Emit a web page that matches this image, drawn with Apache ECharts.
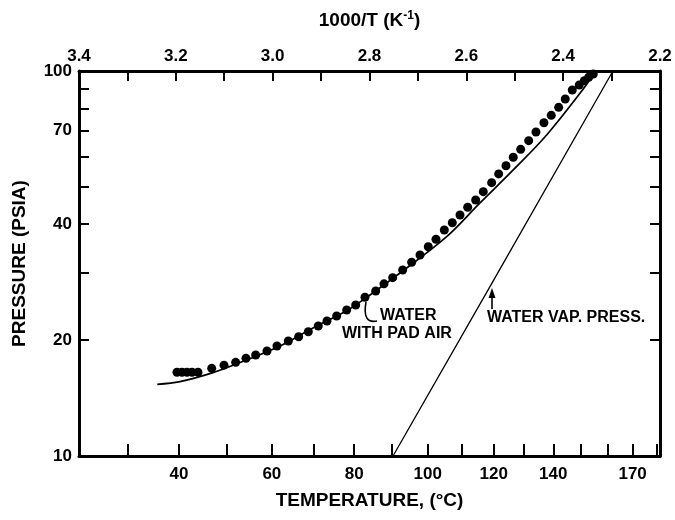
<!DOCTYPE html>
<html><head><meta charset="utf-8">
<script src="https://cdn.jsdelivr.net/npm/echarts@6/dist/echarts.min.js"></script>
<style>html,body{margin:0;background:#fff}#c{width:675px;height:520px}</style>
</head><body><div id="c"></div>
<script>
// Bottom axis: temperature (°C) ticks and labels (placed on 1000/T scale)
const tempTicks = [30,40,50,60,70,80,90,100,110,120,130,140,150,160,170,180];
const tempLabels = [40,60,80,100,120,140,170];
// Top axis: 1000/T (K^-1)
const invTTicks = [2.2,2.3,2.4,2.5,2.6,2.7,2.8,2.9,3.0,3.1,3.2,3.3,3.4];
const invTLabels = [2.2,2.4,2.6,2.8,3.0,3.2,3.4];
// Pressure axis (psia, log)
const pressureTicks = [10,20,30,40,50,60,70,80,90,100];
const pressureLabels = [10,20,40,70,100];

// Measured points: water with pad air (x = 1000/T, y = psia)
const padAirInvT = [3.1976,3.1873,3.1770,3.1666,3.1542,3.1259,3.1005,3.0764,3.0551,3.0351,3.0117,2.9911,2.9677,2.9463,2.9264,2.9058,2.8878,2.8678,2.8471,2.8285,2.8093,2.7872,2.7701,2.7521,2.7315,2.7129,2.6957,2.6786,2.6627,2.6455,2.6290,2.6131,2.5972,2.5807,2.5650,2.5477,2.5332,2.5181,2.5031,2.4878,2.4712,2.4562,2.4397,2.4246,2.4093,2.3957,2.3812,2.3668,2.3564,2.3473,2.3378];
const padAirP = [16.5,16.5,16.5,16.5,16.5,16.89,17.22,17.51,17.93,18.29,18.74,19.31,19.89,20.41,21.03,21.76,22.42,23.10,23.94,24.67,25.84,26.83,28.0,29.05,30.42,31.85,33.27,34.96,36.55,38.64,40.36,42.27,44.26,46.24,48.60,51.29,54.03,56.75,59.68,62.60,65.92,69.43,73.39,76.71,80.48,84.59,89.25,91.96,94.37,96.3,98.2];

// Calculated curve
const modelInvT = [3.2383,3.1914,3.1233,3.0537,2.9849,2.9167,2.8471,2.8135,2.7370,2.6406,2.5718,2.5031,2.4341,2.3653,2.3323];
const modelP = [15.35,15.60,16.46,17.76,19.31,21.50,23.84,25.43,29.88,37.12,45.42,55.33,68.20,87.5,100];

// Water vapour pressure
const vapInvT = [2.7514,2.5512,2.2972];
const vapP = [10,27.53,100];

const toInv = t => 1000/(t+273.15);
const FONT = 'Liberation Sans, Arial, sans-serif';
const zip = (a,b) => a.map((v,i)=>[v,b[i]]);

const chart = echarts.init(document.getElementById('c'), null, {renderer:'canvas'});
const axisLine = {show:true, lineStyle:{color:'#000', width:3}};
const tick = (vals, len) => ({show:true, inside:true, length:len, lineStyle:{color:'#000', width:2}, customValues: vals});
const lbl = {color:'#000', fontFamily:FONT, fontWeight:'bold', fontSize:17};
const nameStyle = {color:'#000', fontFamily:FONT, fontWeight:'bold', fontSize:19};

chart.setOption({
  animation:false,
  backgroundColor:'#fff',
  grid:{left:79, right:15, top:71, bottom:64, containLabel:false},
  xAxis:[
    {type:'value', position:'bottom', min:2.2, max:3.4, inverse:true,
     axisLine, splitLine:{show:false},
     axisTick: tick(tempTicks.map(toInv), 12),
     axisLabel: Object.assign({}, lbl, {margin:10, customValues: tempLabels.map(toInv),
       formatter: v => String(Math.round(1000/v - 273.15))}),
     name:'TEMPERATURE, (°C)', nameLocation:'middle', nameGap:35,
     nameTextStyle: nameStyle},
    {type:'value', position:'top', min:2.2, max:3.4, inverse:true,
     axisLine, splitLine:{show:false},
     axisTick: tick(invTTicks, 10),
     axisLabel: Object.assign({}, lbl, {margin:6, customValues: invTLabels,
       formatter: v => v.toFixed(1)}),
     name:'1000/T (K{s|-1})', nameLocation:'middle', nameGap:40,
     nameTextStyle: Object.assign({}, nameStyle, {
       rich:{s:{fontSize:12, fontWeight:'bold', fontFamily:FONT, color:'#000', verticalAlign:'top', padding:[0,0,9,0]}}})}
  ],
  yAxis:[
    {type:'log', logBase:10, min:10, max:100, position:'left',
     axisLine, splitLine:{show:false},
     axisTick: tick(pressureTicks, 10),
     axisLabel: Object.assign({}, lbl, {margin:7, customValues: pressureLabels}),
     name:'PRESSURE (PSIA)', nameLocation:'middle', nameGap:50, nameRotate:90,
     nameTextStyle: nameStyle},
    {type:'log', logBase:10, min:10, max:100, position:'right',
     axisLine, splitLine:{show:false},
     axisTick: tick(pressureTicks, 10),
     axisLabel:{show:false}}
  ],
  series:[
    {type:'line', data: zip(modelInvT, modelP), smooth:0.35, symbol:'none',
     lineStyle:{color:'#000', width:1.7}},
    {type:'line', data: zip(vapInvT, vapP), symbol:'none',
     lineStyle:{color:'#000', width:1.3}},
    {type:'scatter', data: zip(padAirInvT, padAirP), symbol:'circle', symbolSize:9,
     itemStyle:{color:'#000', opacity:1}}
  ],
  graphic:[
    {type:'bezierCurve', shape:{x1:366, y1:302, cpx1:362, cpy1:324, x2:377, y2:321},
     style:{stroke:'#000', lineWidth:1.6, fill:null}},
    {type:'text', left:380, top:308, style:{text:'WATER', font:'bold 16px '+FONT, fill:'#000'}},
    {type:'text', left:342, top:326, style:{text:'WITH PAD AIR', font:'bold 16px '+FONT, fill:'#000'}},
    {type:'line', shape:{x1:492, y1:309, x2:492, y2:292}, style:{stroke:'#000', lineWidth:1.6}},
    {type:'polygon', shape:{points:[[488.5,298],[495.5,298],[492,288]]}, style:{fill:'#000'}},
    {type:'text', left:487, top:310, style:{text:'WATER VAP. PRESS.', font:'bold 16px '+FONT, fill:'#000'}}
  ]
});
</script>
</body></html>
